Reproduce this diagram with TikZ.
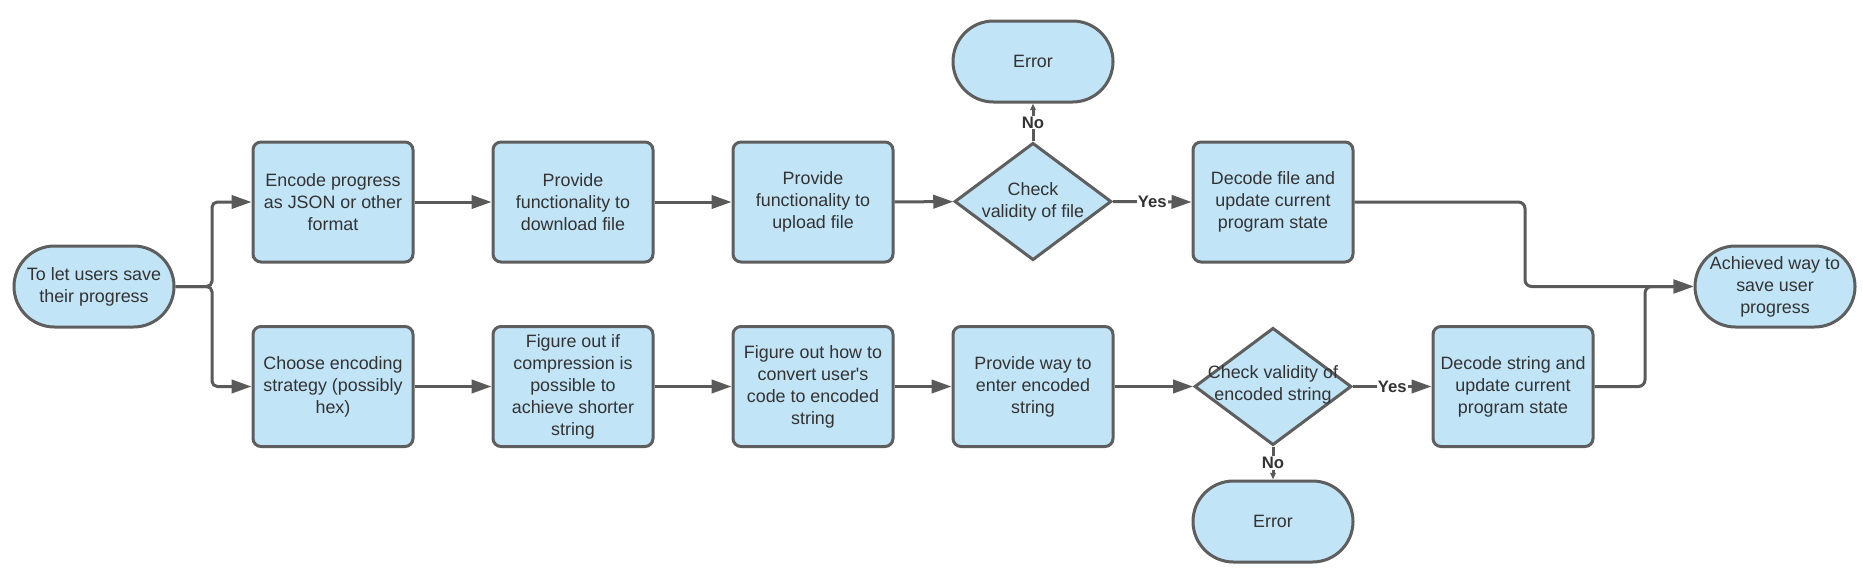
\documentclass[tikz,border=0pt]{standalone}
\usepackage{fontspec}
\setmainfont{Liberation Sans}[Ligatures=TeXOff]
\usetikzlibrary{shapes.geometric,shapes.misc,arrows.meta}
\definecolor{boxfill}{RGB}{193,228,247}
\definecolor{boxdraw}{RGB}{94,94,94}
\definecolor{txtc}{RGB}{51,51,51}
\definecolor{linec}{RGB}{90,90,90}
\begin{document}
\begin{tikzpicture}[x=0.75pt,y=-0.75pt,
 every node/.style={font=\fontsize{13.4}{16.5}\selectfont, text=txtc, align=center},
 procbox/.style={rectangle, rounded corners=6pt, draw=boxdraw, fill=boxfill, line width=2.25pt, minimum width=120pt, minimum height=90pt, inner sep=0pt},
 termbox/.style={rounded rectangle, draw=boxdraw, fill=boxfill, line width=2.25pt, minimum width=120pt, minimum height=60.75pt, inner sep=0pt},
 decbox/.style={diamond, draw=boxdraw, fill=boxfill, line width=2.25pt, minimum width=117.75pt, minimum height=88pt, inner sep=0pt},
 conn/.style={draw=linec, line width=2.25pt, -{Triangle[length=15pt,width=10pt]}},
 connsmall/.style={draw=linec, line width=2.25pt, -{Triangle[length=5pt,width=4pt]}},
 lab/.style={fill=white, font=\bfseries\fontsize{12.5}{15}\selectfont, inner sep=0.8pt}
]
\fill[white] (0,0) rectangle (1863,578);
\useasboundingbox (0,0) rectangle (1863,578);

% terminals
\node[termbox] (start) at (94,286.5) {To let users save\\their progress};
\node[termbox] (err1) at (1033,61.5) {Error};
\node[termbox] (err2) at (1273,521.5) {Error};
\node[termbox] (done) at (1775,286.5) {Achieved way to\\save user\\progress};

% top row
\node[procbox] (encode) at (333,202) {Encode progress\\as JSON or other\\format};
\node[procbox] (download) at (573,202) {Provide\\functionality to\\download file};
\node[procbox] (upload) at (813,202) {Provide\\functionality to\\upload file};
\node[decbox] (d1) at (1033,201.5) {};
\node (d1t) at (1033,201.5) {Check\\validity of file};
\node[procbox] (decfile) at (1273,202) {Decode file and\\update current\\program state};

% bottom row
\node[procbox] (choose) at (333,386.5) {Choose encoding\\strategy (possibly\\hex)};
\node[procbox] (figif) at (573,386.5) {Figure out if\\compression is\\possible to\\achieve shorter\\string};
\node[procbox] (fighow) at (813,386.5) {Figure out how to\\convert user's\\code to encoded\\string};
\node[procbox] (provway) at (1033,386.5) {Provide way to\\enter encoded\\string};
\node[decbox] (d2) at (1273,386.5) {};
\node (d2t) at (1273,385) {Check validity of\\encoded string};
\node[procbox] (decstr) at (1513,386.5) {Decode string and\\update current\\program state};

% fork from start
\coordinate (fork) at (212,286.5);
\draw[conn, rounded corners=4pt] (start.east) -- (fork) |- (encode.west);
\draw[conn, rounded corners=4pt] (start.east) -- (fork) |- (choose.west);

% top row connectors
\draw[conn] (encode) -- (download);
\draw[conn] (download) -- (upload);
\draw[conn] (upload) -- (d1);
\draw[conn] (d1.east) -- node[lab] (yes1) {Yes} (decfile.west);
\draw[connsmall] (d1.north) -- node[lab] (no1) {No} (err1.south);

% bottom row connectors
\draw[conn] (choose) -- (figif);
\draw[conn] (figif) -- (fighow);
\draw[conn] (fighow) -- (provway);
\draw[conn] (provway) -- (d2);
\draw[conn] (d2.east) -- node[lab] (yes2) {Yes} (decstr.west);
\draw[connsmall] (d2.south) -- node[lab] (no2) {No} (err2.north);

% merge into final
\coordinate (m1) at (1525,286.5);
\coordinate (m2) at (1645,286.5);
\draw[conn, rounded corners=5pt] (decfile.east) -| (m1) -- (done.west);
\draw[conn, rounded corners=5pt] (decstr.east) -| (m2) -- (done.west);
\end{tikzpicture}
\end{document}
